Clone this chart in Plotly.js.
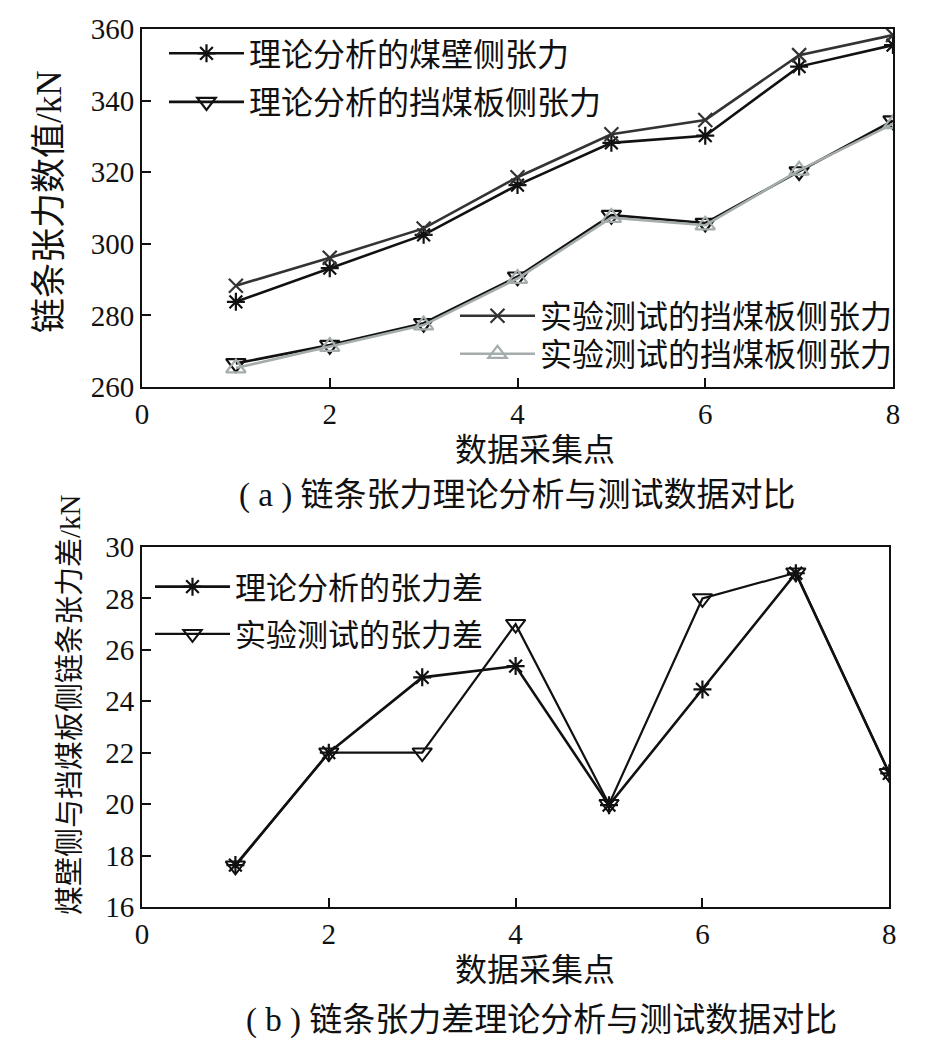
<!DOCTYPE html>
<html><head><meta charset="utf-8">
<script src="https://cdn.plot.ly/plotly-3.0.1.min.js"></script>
<style>html,body{margin:0;padding:0;background:#fff}</style>
</head><body><div id="chart" style="width:945px;height:1044px"></div>
<script>
const points = [1, 2, 3, 4, 5, 6, 7, 8];
// (a) chain tension, kN
const theoryCoalWall = [283.8, 293.2, 302.5, 316.4, 328.2, 330.2, 349.5, 355.5];
const testCoalWall   = [288.3, 296.1, 304.3, 318.6, 330.6, 334.6, 352.7, 358.3];
const theoryBaffle   = [266.6, 271.7, 277.8, 290.8, 308.0, 305.8, 320.2, 334.4];
const testBaffle     = [265.3, 271.3, 277.3, 290.3, 307.3, 305.2, 320.5, 333.5];
// (b) tension difference, kN
const theoryDiff = [17.63, 22.0, 24.93, 25.37, 19.96, 24.46, 28.98, 21.2];
const testDiff   = [17.6, 22.0, 22.0, 27.0, 20.0, 28.0, 29.0, 21.2];

const names = {
  a1: '理论分析的煤壁侧张力', a2: '理论分析的挡煤板侧张力',
  a3: '实验测试的挡煤板侧张力', a4: '实验测试的挡煤板侧张力',
  b1: '理论分析的张力差', b2: '实验测试的张力差'
};
const FONT = '"Liberation Serif", "Times New Roman", "Noto Sans CJK SC", serif';

const traces = [
  {x: points, y: theoryCoalWall, name: names.a1, legend: 'legend', legendgroup: 'g1',
   mode: 'lines+markers', line: {color: '#111', width: 2.6},
   marker: {symbol: 'asterisk-open', size: 15, color: '#111', line: {width: 2.2, color: '#111'}}},
  {x: points, y: theoryBaffle, name: names.a2, legend: 'legend', legendgroup: 'g2',
   mode: 'lines+markers', line: {color: '#111', width: 2.6},
   marker: {symbol: 'triangle-down-open', size: 17, color: '#111', line: {width: 2.2, color: '#111'}}},
  {x: points, y: testCoalWall, name: names.a3, legend: 'legend2', legendgroup: 'g3',
   mode: 'lines+markers', line: {color: '#333', width: 2.6},
   marker: {symbol: 'x-thin-open', size: 14, color: '#333', line: {width: 2.2, color: '#333'}}},
  {x: points, y: testBaffle, name: names.a4, legend: 'legend4', legendgroup: 'g4',
   mode: 'lines+markers', line: {color: '#a4acac', width: 2.6},
   marker: {symbol: 'triangle-up-open', size: 17, color: '#a4acac', line: {width: 2.2, color: '#a4acac'}}},
  {x: points, y: theoryDiff, name: names.b1, legend: 'legend3', legendgroup: 'g5',
   xaxis: 'x2', yaxis: 'y2',
   mode: 'lines+markers', line: {color: '#111', width: 2.6},
   marker: {symbol: 'asterisk-open', size: 15, color: '#111', line: {width: 2.2, color: '#111'}}},
  {x: points, y: testDiff, name: names.b2, legend: 'legend3', legendgroup: 'g6',
   xaxis: 'x2', yaxis: 'y2',
   mode: 'lines+markers', line: {color: '#111', width: 2.2},
   marker: {symbol: 'triangle-down-open', size: 17, color: '#111', line: {width: 2, color: '#111'}}}
];

const axisBase = {
  showgrid: false, zeroline: false, showline: true, mirror: true,
  linecolor: '#111', linewidth: 2, ticks: 'inside', ticklen: 9, tickwidth: 2,
  tickcolor: '#111', tickfont: {family: FONT, size: 29, color: '#111'}
};
const H = 878, W = 751;
const py = v => (907 - v) / H;   // pixel row -> paper y
const px = v => (v - 142) / W;   // pixel col -> paper x
const topBottom = py(387);
const botTop = py(547);

function label(text, xPix, yPix, size, angle) {
  return {text: text, xref: 'paper', yref: 'paper', x: px(xPix), y: py(yPix),
    xanchor: 'center', yanchor: 'middle', showarrow: false, textangle: angle || 0,
    font: {family: FONT, size: size, color: '#111'}};
}
function legendAt(xPix, yPix, xanchor, yanchor, size) {
  return {x: px(xPix), y: py(yPix), xanchor: xanchor, yanchor: yanchor, bgcolor: 'rgba(0,0,0,0)',
    font: {family: FONT, size: size, color: '#111'}, itemwidth: 75, tracegroupgap: 4};
}

const layout = {
  width: 945, height: 1044,
  margin: {l: 142, r: 52, t: 29, b: 137},
  paper_bgcolor: '#fff', plot_bgcolor: '#fff',
  font: {family: FONT, color: '#111'},
  xaxis: Object.assign({}, axisBase, {domain: [0, 1], range: [0, 8], dtick: 2, anchor: 'y'}),
  yaxis: Object.assign({}, axisBase, {domain: [topBottom, 1], range: [260, 360], dtick: 20, anchor: 'x'}),
  xaxis2: Object.assign({}, axisBase, {domain: [0, 0.995], range: [0, 8], dtick: 2, anchor: 'y2'}),
  yaxis2: Object.assign({}, axisBase, {domain: [0, botTop], range: [16, 30], dtick: 2, anchor: 'x2'}),
  legend: legendAt(164, 26, 'left', 'top', 32),
  legend2: legendAt(898, 316, 'right', 'middle', 32),
  legend4: legendAt(898, 354, 'right', 'middle', 32),
  legend3: legendAt(150, 560, 'left', 'top', 31),
  annotations: [
    label('数据采集点', 535, 450, 32),
    label('数据采集点', 535, 970, 32),
    label('链条张力数值/kN', 50, 202, 35, -90),
    label('煤壁侧与挡煤板侧链条张力差/kN', 70, 705, 29, -90),
    label('( a ) 链条张力理论分析与测试数据对比', 517, 495, 33),
    label('( b ) 链条张力差理论分析与测试数据对比', 541, 1020, 33)
  ]
};

Plotly.newPlot('chart', traces, layout, {displayModeBar: false, staticPlot: true});
</script></body></html>
